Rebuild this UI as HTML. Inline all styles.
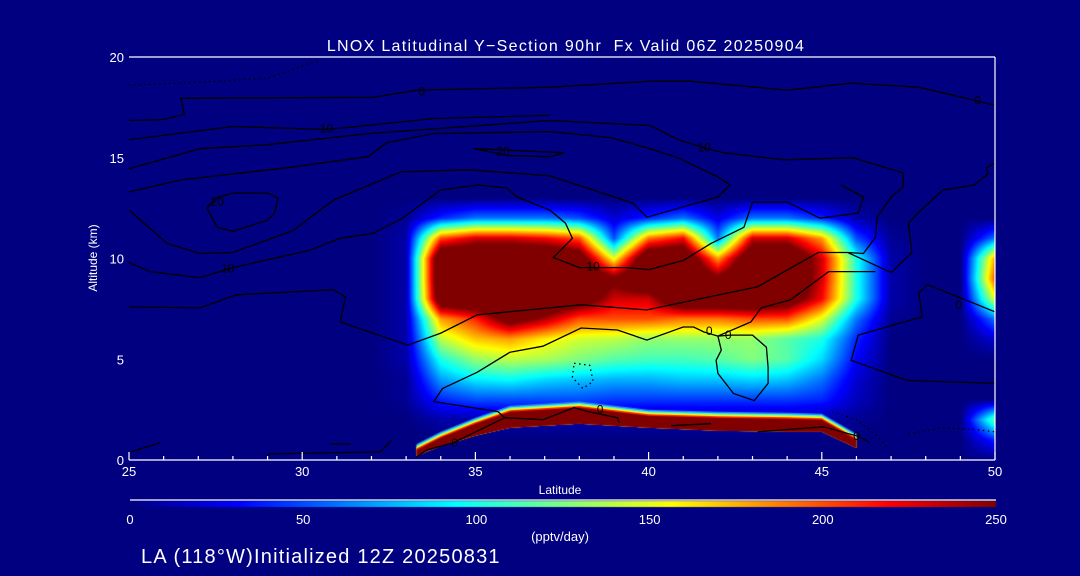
<!DOCTYPE html>
<html><head><meta charset="utf-8">
<style>
html,body{margin:0;padding:0;background:#000080;}
#wrap{position:relative;width:1080px;height:576px;background:#000080;overflow:hidden;font-family:"Liberation Sans",sans-serif;color:#fff;}
canvas{position:absolute;left:0;top:0;}
svg{position:absolute;left:0;top:0;}
</style></head>
<body>
<div id="wrap">
<canvas id="heat" width="1080" height="576"></canvas>
<svg id="svg" width="1080" height="576"></svg>
</div>
<script>
// ---- data ----
const latCols = [25,26,27,28,29,30,31,32,33,34,35,36,37,38,39,40,41,42,43,44,45,46,47,48,49,50];
const altRows = [0,1,2,3,4,5,6,7,8,9,10,11,12,13];
// LNOX production (pptv/day) rows by altitude (km), columns by latitude
const row0  = [0,0,0,0,0,0,0,0,0,0,0,0,0,0,0,0,0,0,0,0,0,0,0,0,0,0];
const row1  = [0,0,0,0,0,0,0,0,0,0,0,0,0,0,0,0,0,0,0,0,0,0,0,0,0,40];
const row2  = [0,0,0,0,0,0,0,0,0,10,10,10,10,10,10,10,10,10,10,10,10,5,0,0,0,120];
const row3  = [0,0,0,0,0,0,0,0,5,40,50,50,50,50,45,45,45,45,45,45,40,15,0,0,0,0];
const row4  = [0,0,0,0,0,0,0,0,5,70,90,95,85,80,75,75,80,80,85,80,60,20,0,0,0,0];
const row5  = [0,0,0,0,0,0,0,0,10,100,130,140,135,125,115,110,110,115,125,115,85,30,0,0,0,0];
const row6  = [0,0,0,0,0,0,0,0,10,140,170,180,160,145,140,130,130,130,130,115,100,40,0,0,0,20];
const row7  = [0,0,0,0,0,0,0,0,10,180,210,270,240,200,200,200,190,190,200,200,150,60,5,0,0,60];
const row8  = [0,0,0,0,0,0,0,0,10,290,300,300,300,280,230,230,300,300,300,280,220,100,10,0,0,150];
const row9  = [0,0,0,0,0,0,0,0,10,300,300,300,300,300,260,300,300,260,300,300,230,100,10,0,0,200];
const row10 = [0,0,0,0,0,0,0,0,10,300,300,300,300,280,150,300,300,180,300,300,230,100,10,0,0,180];
const row11 = [0,0,0,0,0,0,0,0,10,200,230,230,220,200,50,190,220,60,230,230,180,50,5,0,0,60];
const row12 = [0,0,0,0,0,0,0,0,5,40,60,60,60,50,20,40,60,25,60,60,40,10,0,0,0,0];
const row13 = [0,0,0,0,0,0,0,0,0,0,0,0,0,0,0,0,0,0,0,0,0,0,0,0,0,0];
const grid = [row0,row1,row2,row3,row4,row5,row6,row7,row8,row9,row10,row11,row12,row13];
// near-surface production layer
const surfLat    = [33.3,34,35,36,38,40,42,44,45,46];
const surfBottom = [0.2,0.7,1.2,1.6,1.8,1.6,1.45,1.4,1.4,0.6];
const surfTop    = [0.5,1.1,1.8,2.4,2.6,2.2,2.1,2.05,2.0,1.0];
// contours [lat,alt,...]
const contourSolid = [
 [25,16.85,26,16.9,26.6,17.15,26.5,17.95,32.05,18.0,33.3,18.35,37.15,18.5,40.05,18.8,41.2,18.8,44.0,18.35,45.85,18.7,47.8,18.5,49.4,17.85,50,17.6],
 [25,15.9,28.0,16.55,30.7,16.4,31.3,16.5,33.8,16.95,37.15,17.1],
 [25,14.45,27.05,15.45,29.0,15.65,31.9,16.2,37.15,16.85,40.05,16.6,40.85,15.9,41.6,15.5,42.15,15.25,43.9,14.9,45.9,15.0,47.35,14.25,47.35,13.55,47.0,13.05,46.6,12.05,46.55,11.05,46.2,10.25,45.75,10.3],
 [25,7.6,27.05,7.55,28.1,8.2,30.9,8.45,31.25,8.1,31.1,6.85,33.05,5.7,34.0,6.3,35.05,7.2,38.05,7.7,39.95,7.45,43.15,8.6,44.9,10.3,45.75,10.3,47.0,9.3,47.6,10.3,47.5,11.75,47.8,12.3,48.5,13.4,49.4,13.65,49.8,14.2,49.75,14.5,50,14.75],
 [25,13.3,26.5,13.9,29.55,14.5,31.9,15.05,32.45,15.75,33.8,16.2,37.15,16.3,38.9,16.0,39.95,15.5,40.85,15.0,42.0,14.05,42.35,13.65,42.0,13.05,39.95,12.05,39.55,12.75,37.15,14.1,34.8,14.4,32.85,14.3,30.9,12.9,29.75,11.4,28.0,10.3,27.05,10.25,26.1,10.75,25,12.4],
 [27.25,12.5,27.5,13.0,28.0,13.25,29.0,13.25,29.3,13.0,29.2,12.25,29.0,11.9,28.0,11.35,27.55,11.55,27.25,12.5],
 [25,9.8,25.6,9.35,27.05,9.05,28.0,9.55,30.2,10.4,31.1,11.0,32.05,11.25,32.9,12.0,33.4,12.65,34.0,13.4,35.05,13.65,35.9,13.5,36.2,13.05,37.15,12.4,37.6,11.75,37.8,11.0,37.25,10.05,38.0,9.55,38.7,9.55,39.35,9.55,40.0,9.45,41.0,9.9,41.8,10.75,42.75,11.55,43.0,12.8,44.0,12.8,44.95,12.0,46.05,12.25,46.2,13.05,45.55,13.65],
 [34.95,15.45,37.55,15.25,37.15,15.05,36.0,15.1,34.95,15.45],
 [33.3,0.15,33.6,0.5,34.35,0.85,35.85,2.1,35.65,2.4,33.8,2.9,34.05,3.55,35.05,4.35,36.0,5.35,36.95,5.65,38.05,6.55,39.1,6.45,39.95,5.95,41.0,6.6,41.3,6.6,41.6,6.35,42.0,6.15,42.95,6.85,43.25,7.55,44.1,7.95,45.2,9.35,46.55,9.35],
 [42.0,6.15,42.35,6.2,43.0,6.2,43.4,5.6,43.45,4.6,43.45,3.8,43.05,2.95,42.45,3.3,42.0,4.3,41.95,4.95,42.1,5.45,42.0,6.15],
 [48.05,8.7,47.8,8.3,47.9,7.1,46.05,6.2,45.85,4.95,47.45,3.95,50,3.8],
 [48.05,8.7,49.5,7.7,50,7.35],
 [35.85,2.1,36.95,2.0,37.55,2.4,37.85,2.6,38.25,2.4,39.1,2.1,39.15,1.85],
 [40.65,1.7,41.8,1.8],
 [43.15,1.4,45.05,1.65,46.1,1.15,46.4,0.85],
 [25.05,0.4,25.9,0.85],
 [29.0,0.15,29.05,0.3,32.25,0.4,32.6,1.0],
 [30.8,0.8,31.4,0.8]
];
const contourDotted = [
 [25,18.6,27.05,18.75,29.0,18.95,30.5,19.85],
 [37.85,4.8,38.3,4.7,38.4,3.9,38.1,3.55,37.8,4.1,37.85,4.8],
 [45.3,2.4,46.0,2.0,46.6,1.2,46.9,0.6],
 [47.5,1.3,48.5,1.6,49.5,1.5,50,1.4]
];
const contourLabelText = ["0","0","10","10","10","20","20","10","0","0","0","0","0","0"];
const contourLabelLat  = [33.45,49.5,30.7,41.6,27.85,27.55,35.8,38.4,41.75,42.3,48.95,34.4,38.6,46.0];
const contourLabelAlt  = [18.3,17.85,16.45,15.5,9.5,12.8,15.3,9.6,6.4,6.2,7.7,0.85,2.5,1.2];
const xTicks = [25,30,35,40,45,50];
const yTicks = [0,5,10,15,20];
const cbTicks = [0,50,100,150,200,250];

// ---- scales ----
const PX0=129, PX1=995, PY0=460, PY1=57;
const X = lat => PX0 + (lat-25)/25*(PX1-PX0);
const Y = alt => PY0 - alt/20*(PY0-PY1);
const CB0=130, CB1=996;
const CBX = v => CB0 + v/250*(CB1-CB0);

function jet(t){
  t=Math.max(0,Math.min(1,t));
  const f=(a)=>Math.max(0,Math.min(1,a));
  const r=f(1.5-Math.abs(4*t-3)), g=f(1.5-Math.abs(4*t-2)), b=f(1.5-Math.abs(4*t-1));
  return [Math.round(r*255),Math.round(g*255),Math.round(b*255)];
}
function val(lat,alt){
  let i=(lat-latCols[0])/(latCols[1]-latCols[0]);
  let j=(alt-altRows[0])/(altRows[1]-altRows[0]);
  if(j>altRows.length-1) return 0;
  i=Math.max(0,Math.min(latCols.length-1.0001,i)); j=Math.max(0,Math.min(altRows.length-1.0001,j));
  const i0=Math.floor(i),j0=Math.floor(j),fi=i-i0,fj=j-j0;
  const a=grid[j0][i0],b=grid[j0][i0+1],c=grid[j0+1][i0],d=grid[j0+1][i0+1];
  return (a*(1-fi)+b*fi)*(1-fj)+(c*(1-fi)+d*fi)*fj;
}
// ---- heatmap ----
const cv=document.getElementById('heat'), ctx=cv.getContext('2d');
ctx.fillStyle='#000080'; ctx.fillRect(0,0,1080,576);
const w=PX1-PX0, h=PY0-PY1;
const img=ctx.createImageData(w,h);
for(let py=0;py<h;py++){
  const alt=(PY0-(PY1+py+0.5))/(PY0-PY1)*20;
  for(let px=0;px<w;px++){
    const lat=25+(px+0.5)/w*25;
    const c=jet(val(lat,alt)/250);
    const k=(py*w+px)*4;
    img.data[k]=c[0];img.data[k+1]=c[1];img.data[k+2]=c[2];img.data[k+3]=255;
  }
}
ctx.putImageData(img,PX0,PY1);
// surface layer
function surfPath(dy){
  ctx.beginPath();
  for(let k=0;k<surfLat.length;k++){const x=X(surfLat[k]),y=Y(surfTop[k])+dy; k?ctx.lineTo(x,y):ctx.moveTo(x,y);}
  for(let k=surfLat.length-1;k>=0;k--){ctx.lineTo(X(surfLat[k]),Y(surfBottom[k]));}
  ctx.closePath();
}
ctx.fillStyle='#3080ff'; surfPath(-6); ctx.fill();
ctx.fillStyle='#40ffd0'; surfPath(-4.5); ctx.fill();
ctx.fillStyle='#ffff00'; surfPath(-3); ctx.fill();
ctx.fillStyle='#ff2000'; surfPath(-1.5); ctx.fill();
ctx.fillStyle='#800000'; surfPath(0); ctx.fill();
// colorbar
for(let x=CB0;x<CB1;x++){const c=jet((x-CB0)/(CB1-CB0));ctx.fillStyle=`rgb(${c[0]},${c[1]},${c[2]})`;ctx.fillRect(x,501,1,6);}

// ---- svg overlay ----
const NS='http://www.w3.org/2000/svg', svg=document.getElementById('svg');
function mk(tag,attrs,parent){const e=document.createElementNS(NS,tag);for(const k in attrs)e.setAttribute(k,attrs[k]);(parent||svg).appendChild(e);return e;}
const gC=mk('g',{});


function pts(a){let s=[];for(let k=0;k<a.length;k+=2)s.push(X(a[k]).toFixed(1)+','+Y(a[k+1]).toFixed(1));return s.join(' ');}
contourSolid.forEach((c)=>{
  const p=mk('polyline',{points:pts(c),fill:'none',stroke:'#000','stroke-width':1.3},gC);
  
  
});
contourDotted.forEach((c)=>{
  const p=mk('polyline',{points:pts(c),fill:'none',stroke:'#000','stroke-width':1.3,'stroke-dasharray':'1.5,3.5'},gC);
  
  
});
contourLabelText.forEach((t,k)=>{
  const e=mk('text',{x:X(contourLabelLat[k]),y:Y(contourLabelAlt[k])+4,'font-size':12,'text-anchor':'middle',fill:'#000','font-family':'Liberation Sans, sans-serif'},gC);
  e.textContent=t;
  
  
});
// axes
const gA=mk('g',{stroke:'#fff','stroke-width':1.2,fill:'none'});


mk('line',{x1:PX0,y1:PY1,x2:PX1,y2:PY1},gA);
mk('line',{x1:PX1,y1:PY1,x2:PX1,y2:PY0},gA);
mk('line',{x1:PX0,y1:PY0,x2:PX1,y2:PY0},gA);
for(let lat=25;lat<=50;lat++){
  const big=(lat%5===0);
  const t=mk('line',{x1:X(lat),y1:PY0,x2:X(lat),y2:PY0-(big?8:4)},gA);
  
  
}
mk('line',{x1:CB0,y1:500,x2:CB1,y2:500},gA);
function txt(s,x,y,size,anchor,name,ls){
  const e=mk('text',{x:x,y:y,'font-size':size,'text-anchor':anchor||'middle',fill:'#fff','font-family':'Liberation Sans, sans-serif'});
  e.style.whiteSpace='pre';
  if(ls) e.setAttribute('letter-spacing',ls);
  e.textContent=s;
  
  
  return e;
}
xTicks.forEach(v=>txt(String(v),X(v),476,13,'middle','x-tick-label'));
yTicks.forEach(v=>txt(String(v),124,Y(v)+5,13,'end','y-tick-label'));
cbTicks.forEach(v=>txt(String(v),CBX(v),524,13,'middle','colorbar-tick-label'));
txt('LNOX Latitudinal Y\u2212Section 90hr  Fx Valid 06Z 20250904',566,51,16,'middle','chart-title',1.3);
txt('Latitude',560,494,12,'middle','x-axis-title');
txt('(pptv/day)',560,541,13,'middle','colorbar-units');
txt('LA (118\u00B0W)Initialized 12Z 20250831',141,563,20,'start','init-caption',1.2);
const yt=txt('Altitude (km)',0,0,12,'middle','y-axis-title');
yt.setAttribute('transform','translate(97,258) rotate(-90)');
</script>
</body></html>
